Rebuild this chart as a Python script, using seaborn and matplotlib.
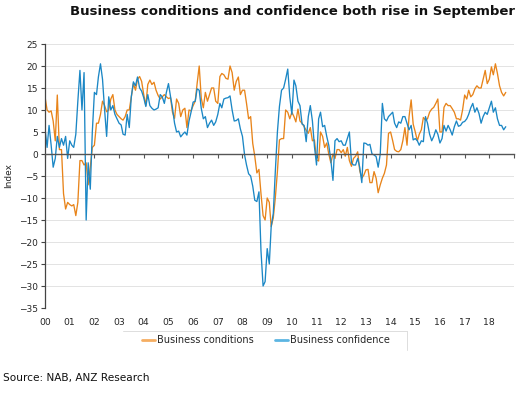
import numpy as np
import pandas as pd
import matplotlib
matplotlib.use("Agg")
import matplotlib.pyplot as plt
from matplotlib.lines import Line2D
import seaborn as sns

# NAB monthly survey, Jan 2000 - Sep 2018 (net balance)
conditions = [
    13, 10, 9.5, 9.8, 7.5, 3, 13.4, 1, 1, -9, -12.5, -11,            # 2000
    -11.5, -11.8, -11.5, -14, -11, -1.5, -1.5, -2.5, -2, -7, -3, 1.5,  # 2001
    2, 7, 7, 9, 12, 11, 9.6, 10, 12.5, 13.5, 10, 9,                  # 2002
    8.5, 8, 7.7, 8.5, 10, 10, 13, 16, 14.5, 17, 17.6, 16.5,          # 2003
    13.5, 11, 15.8, 16.8, 15.8, 16.3, 14.5, 13.3, 12.5, 13, 13.5, 13,  # 2004
    12.6, 12.8, 9.5, 8.1, 12.5, 11.5, 8.5, 10, 10.4, 6, 10, 9.8,     # 2005
    11, 12, 16, 20, 12.7, 10.5, 14, 12, 13.5, 15, 15, 12,            # 2006
    11.5, 17.6, 18.3, 18, 17.2, 17, 20, 18.5, 14.5, 16.5, 17.5, 13.5,  # 2007
    14.5, 14.5, 11.5, 8, 8.5, 2.4, -0.5, -4.3, -3.5, -9, -14, -15,   # 2008
    -10, -11, -16.5, -14.5, -10, -4, 3.2, 3.5, 3.5, 10, 9.5, 8,      # 2009
    9.5, 8.5, 7.3, 10.2, 7.5, 7, 6.2, 5.4, 4.7, 6, 3, 3.2,           # 2010
    -1.3, -1.6, 5, 4, 1.5, 2.5, 0, -2, 0, -1, 1, 1,                  # 2011
    0.3, 1, -0.5, 1.5, -1.5, -2.8, -1, -0.5, 0.5, -3.8, -5.5, -4.8,  # 2012
    -3.6, -3.5, -6.5, -6.5, -4, -5.5, -8.8, -7, -5.5, -4.4, -2.5, 4.7,  # 2013
    5, 3, 1, 0.6, 0.5, 1, 3, 6, 2, 8.5, 12.3, 6.8,                   # 2014
    5, 3, 4.5, 5.5, 8.3, 7.7, 8, 9.5, 10.2, 10.6, 11.5, 12.5,        # 2015
    5, 5, 10.6, 11.5, 11, 11, 10.3, 9.5, 8, 8, 7.7, 10,              # 2016
    13.4, 12.5, 14.5, 13, 13.5, 14.8, 15.5, 15, 15, 17, 19, 16,      # 2017
    17, 19.8, 18, 20.5, 18.3, 15.5, 14, 13.2, 14,                    # 2018
]

confidence = [
    5.8, 1.5, 6.5, 2, -3, -1, 4, 1.5, 3.5, 2, 4, -1,                 # 2000
    3, 2, 1.5, 4.5, 12, 19, 10, 18.5, -15, -2, -8, 5,                # 2001
    14, 13.5, 17.5, 20.5, 17, 10, 4, 13, 10, 11, 9, 8,               # 2002
    7, 6.6, 4.5, 4.3, 9, 6, 13, 16.4, 15.5, 17.5, 15, 14.3,          # 2003
    12.8, 10.8, 13.5, 11, 10.4, 10, 10.2, 10.5, 13.5, 13, 11.5, 14,  # 2004
    16, 13, 10.5, 7, 5, 5.2, 3.9, 4.5, 5, 4.3, 7.5, 9.5,             # 2005
    11.8, 12, 14.8, 14.5, 10.4, 8, 8.5, 6, 7, 7.7, 6.5, 7.3,         # 2006
    9, 11.5, 10.5, 12.5, 12.7, 12.8, 13.2, 10, 7.5, 7.6, 8, 5.7,     # 2007
    4, -0.2, -2.5, -4.5, -5, -7.3, -10.5, -10.8, -8.6, -22, -30, -29,  # 2008
    -21.5, -25, -16.5, -13.5, -4, 5, 10.8, 14.5, 15, 17, 19.3, 13,   # 2009
    9, 16.8, 15.5, 12, 11, 6.8, 6.5, 2.8, 8.5, 11, 7.5, 1.7,         # 2010
    -2.5, 8, 9.5, 6.2, 6.5, 4, 2, -1.4, -6, 3, 3.5, 2.8,             # 2011
    3, 2, 2, 3.5, 5, -2, -2.5, -2.5, -1, -3, -6.5, 2.5,              # 2012
    2.4, 2, 2.2, 0, -0.2, -0.6, -3, 0, 11.5, 8, 7.5, 8.5,            # 2013
    9, 9.5, 7, 6, 7.3, 7, 8.5, 8.5, 7, 5.5, 6.5, 3.2,                # 2014
    3.5, 3, 2, 3, 2.8, 8.5, 7, 4.5, 3, 4, 5.5, 4.5,                  # 2015
    2.5, 3.5, 6.5, 5.2, 6.5, 5.5, 4.3, 6.2, 7.5, 6.3, 6.5, 7.2,      # 2016
    7.4, 8, 9, 10.5, 11.5, 9.5, 10.5, 9.2, 7, 8.5, 9.5, 9,           # 2017
    10.5, 12, 9.5, 10.5, 8, 6.5, 6.5, 5.5, 6.2,                      # 2018
]

months = pd.date_range("2000-01-01", periods=len(conditions), freq="MS")
year_ticks = pd.date_range("2000-01-01", "2019-01-01", freq="YS")
year_labels = [f"{y % 100:02d}" for y in range(2000, 2019)] + [""]

orange = "#E8841A"
blue = "#1B87C5"

sns.set_style("white")
plt.rcParams["font.family"] = ["DejaVu Sans"]

fig = plt.figure(figsize=(5.29, 3.93), dpi=100)
ax = fig.add_axes([45 / 529, 1 - 308 / 393, (514 - 45) / 529, (308 - 44) / 393])

sns.lineplot(x=months, y=conditions, ax=ax, color=orange, linewidth=0.95,
             label="Business conditions", legend=False)
sns.lineplot(x=months, y=confidence, ax=ax, color=blue, linewidth=0.95,
             label="Business confidence", legend=False)

ax.set_xlim(year_ticks[0], year_ticks[-1])
ax.set_ylim(-35, 25)
ax.set_yticks(np.arange(-35, 26, 5))
ax.yaxis.grid(True, color="#e3e3e3", linewidth=0.7)
ax.set_axisbelow(True)
ax.tick_params(axis="y", direction="out", length=3, width=0.8, color="#444444",
               labelsize=6.5, pad=2, left=True)

for s in ["top", "right"]:
    ax.spines[s].set_visible(False)
ax.spines["left"].set_color("#444444")
ax.spines["left"].set_linewidth(0.9)

# x axis line sits on zero; year labels along the bottom
ax.spines["bottom"].set_position(("data", 0))
ax.spines["bottom"].set_color("#555555")
ax.spines["bottom"].set_linewidth(1.0)
ax.set_xticks(year_ticks)
ax.set_xticklabels([])
ax.tick_params(axis="x", direction="out", length=3, width=0.8, color="#555555", bottom=True)

sec = ax.secondary_xaxis("bottom")
sec.set_xticks(year_ticks)
sec.set_xticklabels(year_labels)
sec.tick_params(axis="x", length=0, labelsize=6.7, pad=7)
sec.spines["bottom"].set_visible(False)

ax.set_xlabel("")
ax.set_ylabel("Index", fontsize=6.5, labelpad=4)

fig.text(515 / 529, 1 - 12 / 393, "Business conditions and confidence both rise in September",
         ha="right", va="center", fontsize=9.5, fontweight="bold", color="#111111")

handles = [Line2D([], [], color="#F5AE62", linewidth=2),
           Line2D([], [], color="#5CB5E2", linewidth=2)]
fig.legend(handles, ["Business conditions", "Business confidence"], loc="center",
           bbox_to_anchor=(266 / 529, 1 - 340 / 393), ncol=2, frameon=False,
           fontsize=7, handlelength=1.3, handletextpad=0.2, columnspacing=2.2)

# faint box edge around the legend area as in the source
fig.add_artist(Line2D([123 / 529, 407 / 529], [1 - 331 / 393, 1 - 331 / 393],
                      color="#dddddd", linewidth=0.7))
fig.add_artist(Line2D([407 / 529, 407 / 529], [1 - 331 / 393, 1 - 350 / 393],
                      color="#dddddd", linewidth=0.7))

fig.text(3 / 529, 1 - 378 / 393, "Source: NAB, ANZ Research", ha="left", va="center",
         fontsize=7.6, color="#111111")

fig.savefig("out.png", dpi=100)
